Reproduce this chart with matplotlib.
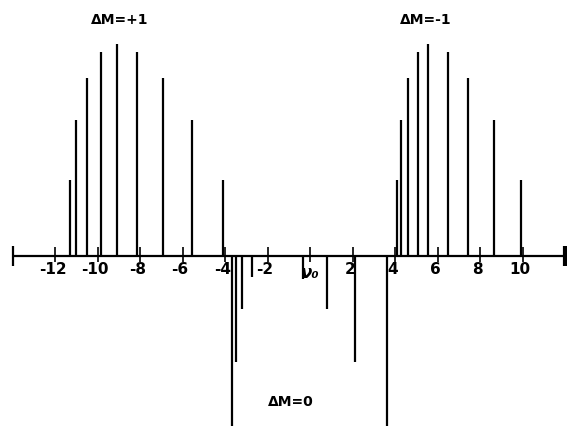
import numpy as np
import matplotlib
matplotlib.use("Agg")
import matplotlib.pyplot as plt

# line positions (in units from nu_0) and relative intensities
sigma_plus_pos = [-11.31, -11.00, -10.52, -9.84, -9.08, -8.14, -6.91, -5.57, -4.12]
sigma_plus_int = [36, 64, 84, 96, 100, 96, 84, 64, 36]

sigma_minus_pos = [4.08, 4.25, 4.60, 5.06, 5.53, 6.50, 7.44, 8.64, 9.91]
sigma_minus_int = [36, 64, 84, 96, 100, 96, 84, 64, 36]

# pi lines are drawn downwards, the outer two run off the page
pi_pos = [-3.66, -3.49, -3.20, -2.72, -0.32, 0.79, 2.10, 3.62]
pi_int = [100, 50, 25, 10, 11, 25, 50, 100]

tick_pos = [-12, -10, -8, -6, -4, -2, 0, 2, 4, 6, 8, 10]
tick_labels = ["-12", "-10", "-8", "-6", "-4", "-2", "ν₀", "2", "4", "6", "8", "10"]

axis_ends = [-14.0, 12.0]

fig = plt.figure(figsize=(5.67, 4.27), dpi=100)
ax = fig.add_axes([0, 0, 1, 1])
ax.set_xlim(-14.59, 12.08)
ax.set_ylim(-80.2, 121.2)
ax.axis("off")

lw = 1.6
# baseline with end bars
ax.hlines(0, axis_ends[0], axis_ends[1], color="black", lw=1.6)
ax.vlines(axis_ends[0], -4.5, 4.5, color="black", lw=1.6)
ax.vlines(axis_ends[1], -4.5, 4.5, color="black", lw=3.0)

# ticks cross the baseline
ax.vlines(tick_pos, -3.0, 4.3, color="black", lw=1.2)

ax.vlines(sigma_plus_pos, 0, sigma_plus_int, color="black", lw=lw)
ax.vlines(sigma_minus_pos, 0, sigma_minus_int, color="black", lw=lw)
ax.vlines(pi_pos, 0, -np.array(pi_int), color="black", lw=lw)

for x, lab in zip(tick_pos, tick_labels):
    if lab == "ν₀":
        ax.text(x, -7.4, lab, ha="center", va="center", fontsize=12,
                fontweight="bold", fontstyle="italic")
    else:
        ax.text(x - 0.12, -5.7, lab, ha="center", va="center",
                fontsize=11, fontweight="bold")

ax.text(-8.97, 111.8, "ΔM=+1", ha="center", va="center", fontsize=10, fontweight="bold")
ax.text(5.45, 111.8, "ΔM=-1", ha="center", va="center", fontsize=10, fontweight="bold")
ax.text(-0.89, -68.4, "ΔM=0", ha="center", va="center", fontsize=10, fontweight="bold")

fig.savefig("out.png", dpi=100, facecolor="white")
